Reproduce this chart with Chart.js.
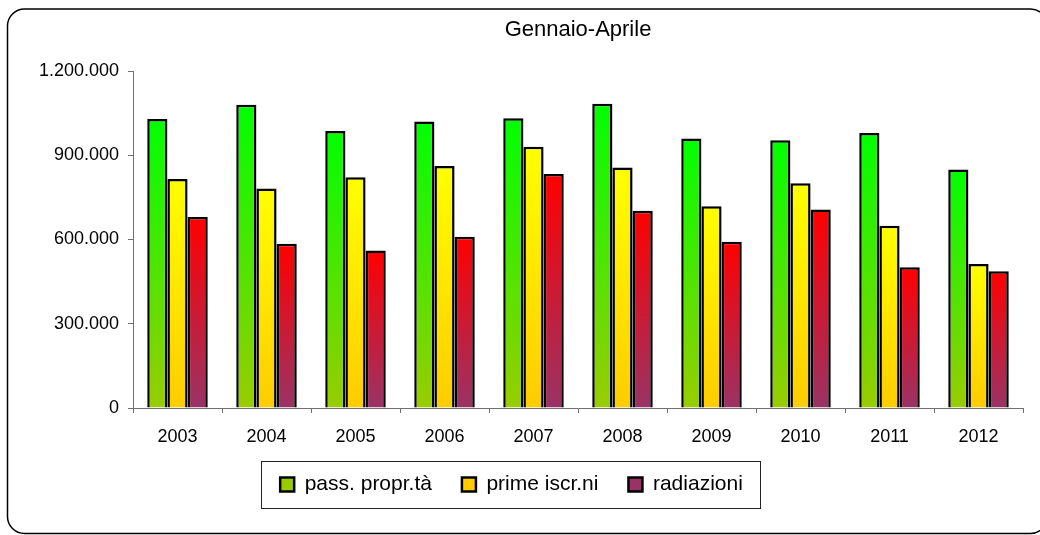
<!DOCTYPE html>
<html lang="it">
<head>
  <meta charset="UTF-8">
  <title>Gennaio-Aprile</title>
  <script src="https://cdn.jsdelivr.net/npm/chart.js"></script>
  <style>
    body { margin: 0; background: #fff; }
    #wrap { width: 1040px; height: 535px; }
  </style>
</head>
<body>
  <div id="wrap"><canvas id="myChart"></canvas></div>

  <script>
    const years = ['2003', '2004', '2005', '2006', '2007', '2008', '2009', '2010', '2011', '2012']
    const passaggi = [1029000, 1080000, 986000, 1020000, 1032000, 1083000, 960000, 953000, 979000, 849000]
    const primeIscrizioni = [815000, 782000, 822000, 862000, 930000, 856000, 718000, 800000, 649000, 513000]
    const radiazioni = [680000, 585000, 561000, 610000, 833000, 702000, 592000, 707000, 501000, 487000]
    const seriesNames = ['pass. propr.tà', 'prime iscr.ni', 'radiazioni']

    const fontFamily = '"Liberation Sans", Arial, sans-serif'

    // gradient from bar top to the zero line, like the old Excel fills
    const barGradient = (top, bottom, flat) => (ctx) => {
      const chart = ctx.chart
      if (ctx.type !== 'data' || !chart.chartArea) return flat
      const y = chart.scales.y
      const y0 = y.getPixelForValue(ctx.parsed.y)
      const y1 = y.getPixelForValue(0)
      const g = chart.ctx.createLinearGradient(0, y0, 0, y1)
      g.addColorStop(0, top)
      g.addColorStop(1, bottom)
      return g
    }

    const formatIt = (v) => String(v).replace(/\B(?=(\d{3})+(?!\d))/g, '.')

    const roundRect = (c, x, y, w, h, r) => {
      c.beginPath()
      c.moveTo(x + r, y)
      c.lineTo(x + w - r, y)
      c.arcTo(x + w, y, x + w, y + r, r)
      c.lineTo(x + w, y + h - r)
      c.arcTo(x + w, y + h, x + w - r, y + h, r)
      c.lineTo(x + r, y + h)
      c.arcTo(x, y + h, x, y + h - r, r)
      c.lineTo(x, y + r)
      c.arcTo(x, y, x + r, y, r)
      c.closePath()
    }

    const frames = {
      id: 'frames',
      afterDraw(chart) {
        const c = chart.ctx
        c.save()
        c.strokeStyle = '#000'
        c.lineWidth = 1.5
        roundRect(c, 7.5, 9, 1040, 524.5, 17)
        c.stroke()

        const boxes = chart.legend.legendHitBoxes
        if (boxes && boxes.length) {
          const left = Math.min(...boxes.map(b => b.left))
          const right = Math.max(...boxes.map(b => b.left + b.width))
          const mid = boxes[0].top + boxes[0].height / 2
          c.lineWidth = 1
          c.strokeStyle = '#222'
          c.strokeRect(Math.round(left - 19) + 0.5, Math.round(mid - 24) + 0.5, Math.round(right - left + 36), 47)
        }
        c.restore()
      }
    }

    const axisColor = '#707070'

    new Chart(document.getElementById('myChart'), {
      type: 'bar',
      data: {
        labels: years,
        datasets: [
          {
            label: seriesNames[0],
            data: passaggi,
            backgroundColor: barGradient('#00ff00', '#99cc00', '#55e61a'),
            borderColor: '#000',
            borderWidth: 2.5
          },
          {
            label: seriesNames[1],
            data: primeIscrizioni,
            backgroundColor: barGradient('#ffff00', '#ffcc00', '#ffe100'),
            borderColor: '#000',
            borderWidth: 2.5
          },
          {
            label: seriesNames[2],
            data: radiazioni,
            backgroundColor: barGradient('#ff0000', '#993366', '#e0163a'),
            borderColor: '#000',
            borderWidth: 2.5
          }
        ]
      },
      options: {
        responsive: true,
        maintainAspectRatio: false,
        animation: false,
        layout: { padding: { left: 0, right: 17, top: 0, bottom: 30 } },
        datasets: { bar: { categoryPercentage: 0.68, barPercentage: 1, inflateAmount: 0 } },
        plugins: {
          title: {
            display: true,
            text: 'Gennaio-Aprile',
            fullSize: false,
            color: '#000',
            font: { family: fontFamily, size: 22, weight: 'normal' },
            padding: { top: 17, bottom: 27.6 }
          },
          legend: {
            position: 'bottom',
            labels: {
              color: '#000',
              boxWidth: 14,
              boxHeight: 14,
              padding: 30,
              font: { family: fontFamily, size: 21 }
            }
          },
          tooltip: { enabled: false }
        },
        scales: {
          x: {
            afterFit: (s) => { s.height = 36 },
            grid: { drawOnChartArea: false, color: axisColor, tickLength: 5 },
            border: { color: axisColor },
            ticks: { color: '#000', padding: 13, font: { family: fontFamily, size: 18 } }
          },
          y: {
            min: 0,
            max: 1200000,
            afterFit: (s) => { s.width = 133 },
            grid: { drawOnChartArea: false, color: axisColor, tickLength: 5 },
            border: { color: axisColor },
            ticks: {
              stepSize: 300000,
              color: '#000',
              padding: 9,
              font: { family: fontFamily, size: 18 },
              callback: (v) => formatIt(v)
            }
          }
        }
      },
      plugins: [frames]
    })
  </script>
</body>
</html>
